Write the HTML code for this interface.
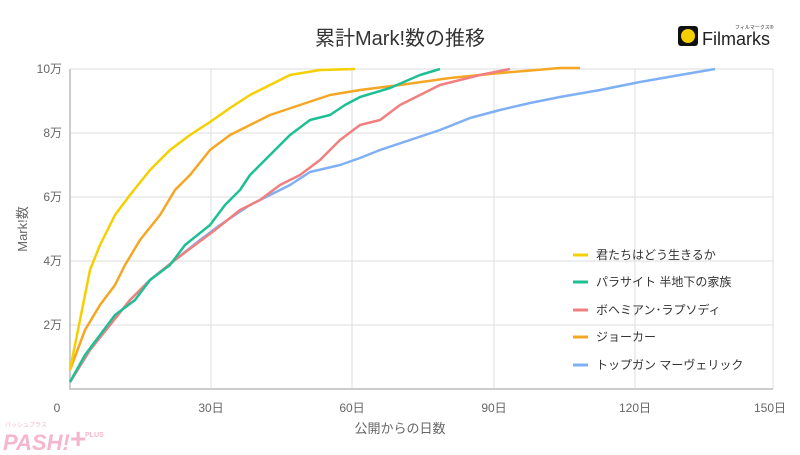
<!DOCTYPE html>
<html><head><meta charset="utf-8"><style>
body{margin:0;background:#fff;font-family:"Liberation Sans","Noto Sans CJK JP",sans-serif;}
</style></head><body>
<svg width="800" height="450" xmlns="http://www.w3.org/2000/svg" font-family="Liberation Sans, Noto Sans CJK JP, sans-serif">
<rect width="800" height="450" fill="#fff"/>
<text x="400" y="45" text-anchor="middle" font-size="20" fill="#333">累計Mark!数の推移</text>
<!-- logo -->
<rect x="678" y="26" width="20" height="20" rx="3" fill="#111"/>
<circle cx="688" cy="36" r="7" fill="#f5d000"/>
<text x="702" y="45" font-size="18" fill="#222">Filmarks</text>
<text x="735" y="29" font-size="5" fill="#333">フィルマークス®</text>
<!-- grid -->
<g stroke="#ddd" stroke-width="1">
<line x1="70" y1="69" x2="773" y2="69"/><line x1="70" y1="133" x2="773" y2="133"/>
<line x1="70" y1="197" x2="773" y2="197"/><line x1="70" y1="261" x2="773" y2="261"/>
<line x1="70" y1="325" x2="773" y2="325"/>
<line x1="211" y1="69" x2="211" y2="389"/><line x1="352" y1="69" x2="352" y2="389"/>
<line x1="494" y1="69" x2="494" y2="389"/><line x1="635" y1="69" x2="635" y2="389"/>
<line x1="773" y1="69" x2="773" y2="389"/>
</g>
<line x1="70" y1="69" x2="70" y2="390" stroke="#ccc" stroke-width="2"/>
<line x1="70" y1="389" x2="773" y2="389" stroke="#ccc" stroke-width="2"/>
<g font-size="12" fill="#666" text-anchor="end">
<text x="62" y="73">10万</text><text x="62" y="137">8万</text><text x="62" y="201">6万</text>
<text x="62" y="265">4万</text><text x="62" y="329">2万</text>
</g>
<g font-size="12" fill="#666" text-anchor="middle">
<text x="57" y="412">0</text><text x="211" y="412">30日</text><text x="352" y="412">60日</text>
<text x="494" y="412">90日</text><text x="635" y="412">120日</text><text x="770" y="412">150日</text>
</g>
<text x="400" y="433" text-anchor="middle" font-size="13" fill="#666">公開からの日数</text>
<text transform="translate(27,229) rotate(-90)" text-anchor="middle" font-size="13" fill="#666">Mark!数</text>
<g fill="none" stroke-width="2.5" stroke-linejoin="round">
<polyline stroke="#7fb0f5" points="70,382 90,350 110,325 130,300 150,280 175,260 200,240 220,225 250,205 270,195 290,185 310,172 340,165 360,158 380,150 410,140 440,130 470,118 500,110 530,103 560,97 600,90 640,82 680,75 715,69"/>
<polyline stroke="#f5a623" points="70,370 85,330 100,305 115,285 125,265 140,240 160,215 175,190 190,175 210,150 230,135 250,125 270,115 300,105 330,95 360,90 400,85 450,78 500,73 560,68 580,68"/>
<polyline stroke="#f08080" points="70,382 90,350 110,325 130,300 150,280 175,260 195,245 215,230 240,210 260,200 280,185 300,175 320,160 340,140 360,125 380,120 400,105 420,95 440,85 460,80 480,75 510,69"/>
<polyline stroke="#1fbf96" points="70,382 85,355 100,335 115,315 135,300 150,280 170,265 185,245 210,225 225,205 240,190 250,175 270,155 290,135 310,120 330,115 345,105 360,97 390,88 420,75 440,69"/>
<polyline stroke="#f5d000" points="70,370 80,320 90,270 100,245 115,215 130,195 150,170 170,150 190,135 210,122 230,108 250,95 270,85 290,75 320,70 355,69"/>
</g>
<g font-size="12" fill="#333">
<line x1="573" y1="255" x2="588" y2="255" stroke="#f5d000" stroke-width="3"/><text x="596" y="259">君たちはどう生きるか</text>
<line x1="573" y1="282" x2="588" y2="282" stroke="#1fbf96" stroke-width="3"/><text x="596" y="286">パラサイト 半地下の家族</text>
<line x1="573" y1="310" x2="588" y2="310" stroke="#f08080" stroke-width="3"/><text x="596" y="314">ボヘミアン･ラプソディ</text>
<line x1="573" y1="337" x2="588" y2="337" stroke="#f5a623" stroke-width="3"/><text x="596" y="341">ジョーカー</text>
<line x1="573" y1="365" x2="588" y2="365" stroke="#7fb0f5" stroke-width="3"/><text x="596" y="369">トップガン マーヴェリック</text>
</g>
<text x="3" y="450" font-size="22" font-weight="bold" font-style="italic" fill="#f4b6cc">PASH!</text>
<text x="70" y="448" font-size="28" font-weight="bold" fill="#f4b6cc">+</text>
<text x="85" y="437" font-size="7" font-weight="bold" fill="#f4b6cc">PLUS</text>
<text x="5" y="427" font-size="6" fill="#f4b6cc">パッシュプラス</text>
</svg>
</body></html>
